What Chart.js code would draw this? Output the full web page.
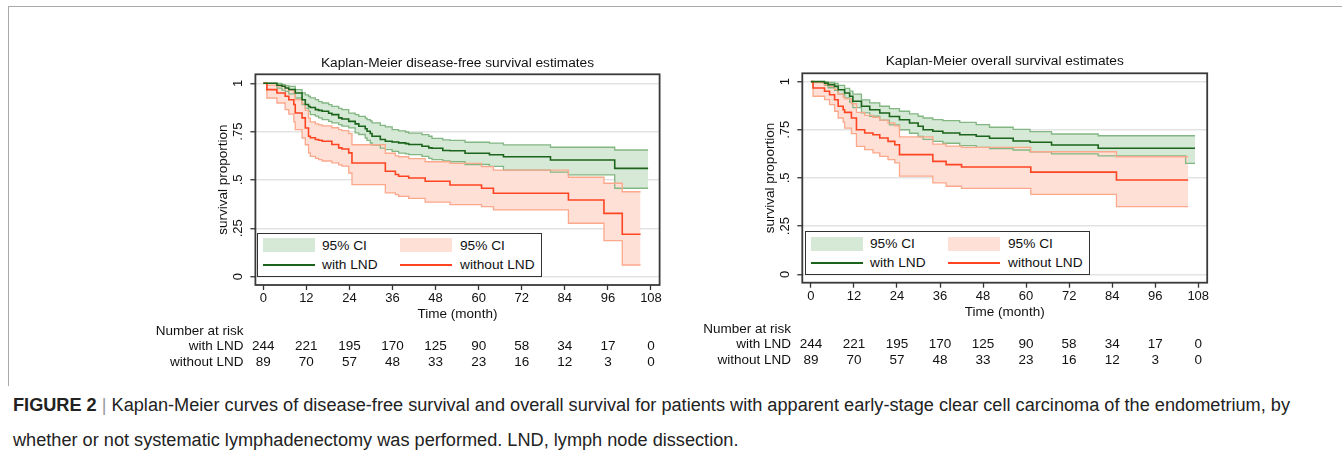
<!DOCTYPE html>
<html>
<head>
<meta charset="utf-8">
<script src="https://cdn.jsdelivr.net/npm/chart.js@4.4.1/dist/chart.umd.min.js"></script>
<style>
  body { margin: 0; width: 1342px; height: 460px; background: #fff; position: relative; overflow: hidden;
         font-family: "Liberation Sans", Arial, sans-serif; color: #111; }
  .frame-top { position: absolute; left: 8px; top: 6px; width: 1334px; border-top: 1.5px solid #a9a9a9; }
  .frame-left { position: absolute; left: 8px; top: 6px; height: 380px; border-left: 1.5px solid #a9a9a9; }
  canvas { position: absolute; }
  .legend { position: absolute; width: 283px; height: 42px; border: 1.5px solid #333; background: #fff; font-size: 13.7px; }
  .legend .sw { position: absolute; width: 52px; height: 14px; }
  .legend .ln { position: absolute; width: 52px; height: 0; border-top: 2px solid; }
  .legend .tx { position: absolute; line-height: 16px; white-space: nowrap; }
  .risk { position: absolute; font-size: 13.5px; line-height: 16px; white-space: nowrap; }
  .caption { position: absolute; left: 13px; font-size: 18px; line-height: 20px; white-space: nowrap; color: #222;
             font-family: "Liberation Sans Narrow", "Liberation Sans", Arial, sans-serif; transform-origin: 0 0; }
  .caption .bar { color: #999; }
</style>
</head>
<body>
<div class="frame-top"></div>
<div class="frame-left"></div>
<canvas id="dfs" width="530" height="285" style="left:150px;top:40px"></canvas>
<canvas id="os" width="530" height="285" style="left:697px;top:40px"></canvas>
<div class="caption" id="cap1" style="top:395px"><b>FIGURE 2</b> <span class="bar">|</span> Kaplan-Meier curves of disease-free survival and overall survival for patients with apparent early-stage clear cell carcinoma of the endometrium, by</div>
<div class="caption" id="cap2" style="top:430px">whether or not systematic lymphadenectomy was performed. LND, lymph node dissection.</div>

<script>
// axis ticks and number-at-risk table
const xTicks = [0, 12, 24, 36, 48, 60, 72, 84, 96, 108]
const yTicks = [0, 0.25, 0.5, 0.75, 1]
const yTickLabels = ["0", ".25", ".5", ".75", "1"]
const riskTimes = [0, 12, 24, 36, 48, 60, 72, 84, 96, 108]
const riskWith = [244, 221, 195, 170, 125, 90, 58, 34, 17, 0]
const riskWithout = [89, 70, 57, 48, 33, 23, 16, 12, 3, 0]

// disease-free survival, with LND (time in months, estimate, 95% CI)
const dfsWithT = [0, 3.8, 5.2, 6.1, 7.1, 8.9, 10.8, 11.7, 12.6, 13.1, 14.5, 15.4, 16.4, 18.2, 19.1, 21.0, 21.9, 23.8, 25.6, 26.6, 28.4, 28.9, 29.8, 30.3, 32.6, 34.0, 35.9, 37.7, 39.6, 40.5, 44.2, 46.1, 47.0, 50.0, 52.0, 56.2, 63.0, 66.9, 80.0, 85.0, 97.9, 107.2]
const dfsWithS = [1, 0.99, 0.985, 0.976, 0.968, 0.95, 0.915, 0.89, 0.88, 0.875, 0.864, 0.86, 0.855, 0.845, 0.838, 0.821, 0.815, 0.803, 0.79, 0.778, 0.765, 0.752, 0.74, 0.726, 0.709, 0.7, 0.696, 0.692, 0.688, 0.683, 0.674, 0.666, 0.664, 0.652, 0.651, 0.638, 0.63, 0.62, 0.603, 0.603, 0.56, 0.56]
const dfsWithHi = [1, 1, 0.993, 0.988, 0.984, 0.967, 0.95, 0.94, 0.933, 0.925, 0.915, 0.905, 0.898, 0.89, 0.881, 0.87, 0.864, 0.846, 0.838, 0.829, 0.82, 0.812, 0.805, 0.795, 0.782, 0.775, 0.76, 0.754, 0.748, 0.742, 0.734, 0.726, 0.715, 0.707, 0.705, 0.695, 0.69, 0.681, 0.669, 0.669, 0.655, 0.655]
const dfsWithLo = [1, 0.975, 0.965, 0.958, 0.945, 0.924, 0.89, 0.87, 0.855, 0.838, 0.83, 0.821, 0.812, 0.803, 0.795, 0.786, 0.778, 0.769, 0.743, 0.735, 0.717, 0.705, 0.691, 0.68, 0.665, 0.657, 0.648, 0.639, 0.635, 0.631, 0.622, 0.612, 0.605, 0.598, 0.594, 0.58, 0.57, 0.551, 0.54, 0.526, 0.457, 0.457]

// disease-free survival, without LND
const dfsWoT = [0, 1.0, 3.8, 6.1, 7.1, 8.5, 8.9, 10.8, 11.7, 12.6, 13.1, 14.5, 15.4, 16.4, 19.1, 21.0, 21.9, 23.8, 24.7, 34.0, 36.8, 37.7, 40.5, 45.1, 52.0, 60.8, 64.1, 85.0, 94.9, 100.0, 105.1]
const dfsWoS = [1, 0.967, 0.95, 0.933, 0.915, 0.89, 0.846, 0.821, 0.769, 0.726, 0.718, 0.709, 0.705, 0.7, 0.683, 0.666, 0.66, 0.64, 0.588, 0.545, 0.528, 0.519, 0.51, 0.493, 0.474, 0.457, 0.431, 0.396, 0.327, 0.219, 0.219]
const dfsWoHi = [1, 0.99, 0.985, 0.975, 0.965, 0.95, 0.915, 0.895, 0.86, 0.82, 0.8, 0.79, 0.785, 0.78, 0.77, 0.76, 0.755, 0.74, 0.682, 0.638, 0.625, 0.62, 0.61, 0.594, 0.586, 0.569, 0.551, 0.514, 0.483, 0.439, 0.439]
const dfsWoLo = [1, 0.924, 0.898, 0.864, 0.84, 0.8, 0.76, 0.717, 0.682, 0.64, 0.622, 0.612, 0.605, 0.598, 0.588, 0.578, 0.571, 0.536, 0.476, 0.433, 0.424, 0.415, 0.405, 0.385, 0.372, 0.362, 0.345, 0.276, 0.186, 0.06, 0.06]

// overall survival, with LND
const osWithT = [0, 3.8, 4.8, 6.6, 7.6, 9.4, 10.8, 11.7, 14.1, 16.4, 19.2, 21.9, 24.7, 27.5, 29.9, 31.3, 34.0, 36.8, 41.5, 46.1, 49.8, 56.4, 61.1, 67.1, 80.1, 104.5, 107.1]
const osWithS = [1, 0.992, 0.984, 0.975, 0.958, 0.941, 0.924, 0.898, 0.872, 0.854, 0.837, 0.819, 0.802, 0.785, 0.768, 0.75, 0.742, 0.733, 0.724, 0.716, 0.706, 0.692, 0.685, 0.671, 0.654, 0.654, 0.654]
const osWithHi = [1, 1, 0.996, 0.99, 0.98, 0.965, 0.95, 0.935, 0.905, 0.89, 0.872, 0.86, 0.846, 0.832, 0.82, 0.811, 0.803, 0.797, 0.788, 0.777, 0.763, 0.752, 0.74, 0.728, 0.719, 0.719, 0.719]
const osWithLo = [1, 0.98, 0.968, 0.955, 0.935, 0.915, 0.893, 0.865, 0.838, 0.82, 0.8, 0.775, 0.75, 0.732, 0.715, 0.7, 0.69, 0.68, 0.668, 0.659, 0.652, 0.645, 0.636, 0.625, 0.615, 0.576, 0.576]

// overall survival, without LND
const osWoT = [0, 0.6, 3.8, 5.2, 6.6, 7.6, 9.0, 9.4, 11.3, 12.7, 15.0, 17.3, 19.2, 21.5, 23.4, 24.7, 34.0, 37.7, 42.0, 61.3, 85.2, 105.2]
const osWoS = [1, 0.967, 0.95, 0.932, 0.906, 0.872, 0.854, 0.84, 0.811, 0.75, 0.733, 0.724, 0.707, 0.69, 0.672, 0.621, 0.586, 0.569, 0.557, 0.53, 0.489, 0.489]
const osWoHi = [1, 0.995, 0.985, 0.975, 0.96, 0.935, 0.92, 0.91, 0.885, 0.84, 0.825, 0.815, 0.8, 0.785, 0.77, 0.713, 0.676, 0.665, 0.659, 0.636, 0.61, 0.61]
const osWoLo = [1, 0.924, 0.906, 0.88, 0.846, 0.811, 0.79, 0.759, 0.73, 0.664, 0.647, 0.63, 0.612, 0.595, 0.578, 0.509, 0.474, 0.457, 0.446, 0.415, 0.351, 0.351]

// colours
const GREEN_LINE = "#1b641b", GREEN_CI = "#82b682", GREEN_FILL = "#d6e8d6"
const RED_LINE = "#ff4422", RED_CI = "#fca88c", RED_FILL = "#fee0d6"
const FONT = "'Liberation Sans', Arial, sans-serif"

// page geometry of the two panels (canvas coords inside)
const panels = [
  {
    id: "dfs", left: 150, top: 40, title: "Kaplan-Meier disease-free survival estimates",
    area: [105.4, 34.3, 509.6, 245], titleY: 23.3, xTitleY: 274, yTitleX: 73, xRange: [-2.2, 110.4], yRange: [-0.0435, 1.0465],
    legend: [257, 232.7], riskRight: 243.6, riskRows: [331, 346, 362],
    w: [dfsWithT, dfsWithS, dfsWithLo, dfsWithHi], wo: [dfsWoT, dfsWoS, dfsWoLo, dfsWoHi],
  },
  {
    id: "os", left: 697, top: 40, title: "Kaplan-Meier overall survival estimates",
    area: [105.3, 33.3, 510.2, 242.7], titleY: 21.7, xTitleY: 272, yTitleX: 73.6, xRange: [-2.4, 110.5], yRange: [-0.0436, 1.043],
    legend: [805, 231], riskRight: 791, riskRows: [328.7, 344.3, 360],
    w: [osWithT, osWithS, osWithLo, osWithHi], wo: [osWoT, osWoS, osWoLo, osWoHi],
  },
]

const pts = (t, v) => t.map((x, i) => ({ x, y: v[i] }))

function line(data, color, width, order, extra) {
  return Object.assign({ data, borderColor: color, borderWidth: width, stepped: true, pointRadius: 0, fill: false, order }, extra || {})
}

// plot region box drawn on top of everything
const frameBox = {
  id: "frameBox",
  afterDatasetsDraw(chart) {
    const a = chart.chartArea, c = chart.ctx
    c.save()
    c.strokeStyle = "#3a3a3a"
    c.lineWidth = 1.8
    c.strokeRect(a.left, a.top, a.right - a.left, a.bottom - a.top)
    c.restore()
  },
}

function addText(cls, text, x, y, align, style) {
  const el = document.createElement("div")
  el.className = cls
  el.textContent = text
  el.style.left = x + "px"
  el.style.top = (y - 8) + "px"
  el.style.transform = align === "center" ? "translateX(-50%)" : align === "right" ? "translateX(-100%)" : "none"
  if (style) Object.assign(el.style, style)
  document.body.appendChild(el)
  return el
}

function addLegend(x, y) {
  const box = document.createElement("div")
  box.className = "legend"
  box.style.left = x + "px"
  box.style.top = y + "px"
  box.innerHTML =
    '<div class="sw" style="left:5px;top:4.5px;background:' + GREEN_FILL + '"></div>' +
    '<div class="tx" style="left:64px;top:4px">95% CI</div>' +
    '<div class="sw" style="left:142px;top:4.5px;background:' + RED_FILL + '"></div>' +
    '<div class="tx" style="left:202px;top:4px">95% CI</div>' +
    '<div class="ln" style="left:5px;top:30px;border-color:' + GREEN_LINE + '"></div>' +
    '<div class="tx" style="left:64px;top:23px">with LND</div>' +
    '<div class="ln" style="left:142px;top:30px;border-color:' + RED_LINE + '"></div>' +
    '<div class="tx" style="left:202px;top:23px">without LND</div>'
  document.body.appendChild(box)
}

panels.forEach((p) => {
  const ctx = document.getElementById(p.id).getContext("2d")
  const cw = ctx.canvas.width, ch = ctx.canvas.height
  const titleLH = 13.7 * 1.2, axisLH = 13.5 * 1.2
  const [w, wo] = [p.w, p.wo]

  const chart = new Chart(ctx, {
    type: "line",
    data: {
      datasets: [
        line(pts(w[0], w[1]), GREEN_LINE, 1.6, 0),
        line(pts(wo[0], wo[1]), RED_LINE, 1.6, 1),
        line(pts(w[0], w[3]), GREEN_CI, 1.3, 3),
        line(pts(w[0], w[2]), GREEN_CI, 1.3, 3, { fill: { target: 2 }, backgroundColor: GREEN_FILL }),
        line(pts(wo[0], wo[3]), RED_CI, 1.3, 2),
        line(pts(wo[0], wo[2]), RED_CI, 1.3, 2, { fill: { target: 4 }, backgroundColor: RED_FILL }),
      ],
    },
    options: {
      responsive: false,
      animation: false,
      events: [],
      layout: { padding: { left: 0, top: 0, bottom: 0, right: cw - p.area[2] } },
      plugins: {
        legend: { display: false },
        tooltip: { enabled: false },
        filler: { drawTime: "beforeDatasetsDraw" },
        title: {
          display: true,
          fullSize: false,
          text: p.title,
          color: "#111",
          font: { family: FONT, size: 13.7, weight: "normal", lineHeight: 1.2 },
          padding: { top: p.titleY - titleLH / 2, bottom: p.area[1] - (p.titleY - titleLH / 2) - titleLH },
        },
      },
      scales: {
        x: {
          type: "linear",
          min: p.xRange[0],
          max: p.xRange[1],
          afterBuildTicks: (s) => { s.ticks = xTicks.map((v) => ({ value: v })) },
          afterFit: (s) => { s.height = ch - p.area[3] },
          grid: { drawOnChartArea: false, drawTicks: true, tickLength: 5, tickColor: "#333", tickWidth: 1.3 },
          border: { display: false },
          ticks: { autoSkip: false, maxRotation: 0, padding: 1, color: "#111", font: { family: FONT, size: 13 }, callback: (v) => String(v) },
          title: {
            display: true, text: "Time (month)", color: "#111",
            font: { family: FONT, size: 13.5, lineHeight: 1.2 },
            padding: { top: 0, bottom: ch - p.xTitleY - axisLH / 2 },
          },
        },
        y: {
          type: "linear",
          min: p.yRange[0],
          max: p.yRange[1],
          afterBuildTicks: (s) => { s.ticks = yTicks.map((v) => ({ value: v })) },
          afterFit: (s) => { s.width = p.area[0] },
          grid: { color: "#e3e3e3", lineWidth: 1.5, drawTicks: true, tickLength: 5, tickColor: "#333", tickWidth: 1.3 },
          border: { display: false },
          ticks: {
            minRotation: 90, maxRotation: 90, crossAlign: "center", padding: 3, color: "#111",
            font: { family: FONT, size: 13 },
            callback: (v) => yTickLabels[yTicks.indexOf(v)],
          },
          title: {
            display: true, text: "survival proportion", color: "#111",
            font: { family: FONT, size: 13.5, lineHeight: 1.2 },
            padding: { top: p.yTitleX - axisLH / 2, bottom: 0 },
          },
        },
      },
    },
    plugins: [frameBox],
  })

  addLegend(p.legend[0], p.legend[1])

  // number at risk, placed on the chart's own x scale
  addText("risk", "Number at risk", p.riskRight, p.riskRows[0], "right")
  addText("risk", "with LND", p.riskRight, p.riskRows[1], "right")
  addText("risk", "without LND", p.riskRight, p.riskRows[2], "right")
  riskTimes.forEach((t, i) => {
    const x = p.left + chart.scales.x.getPixelForValue(t)
    addText("risk", String(riskWith[i]), x, p.riskRows[1], "center")
    addText("risk", String(riskWithout[i]), x, p.riskRows[2], "center")
  })
})

// fit the caption to the width it has in the figure
const cap1 = document.getElementById("cap1"), cap2 = document.getElementById("cap2")
const k = 1277 / cap1.getBoundingClientRect().width
cap1.style.transform = "scaleX(" + k + ")"
cap2.style.transform = "scaleX(" + k + ")"
</script>
</body>
</html>
